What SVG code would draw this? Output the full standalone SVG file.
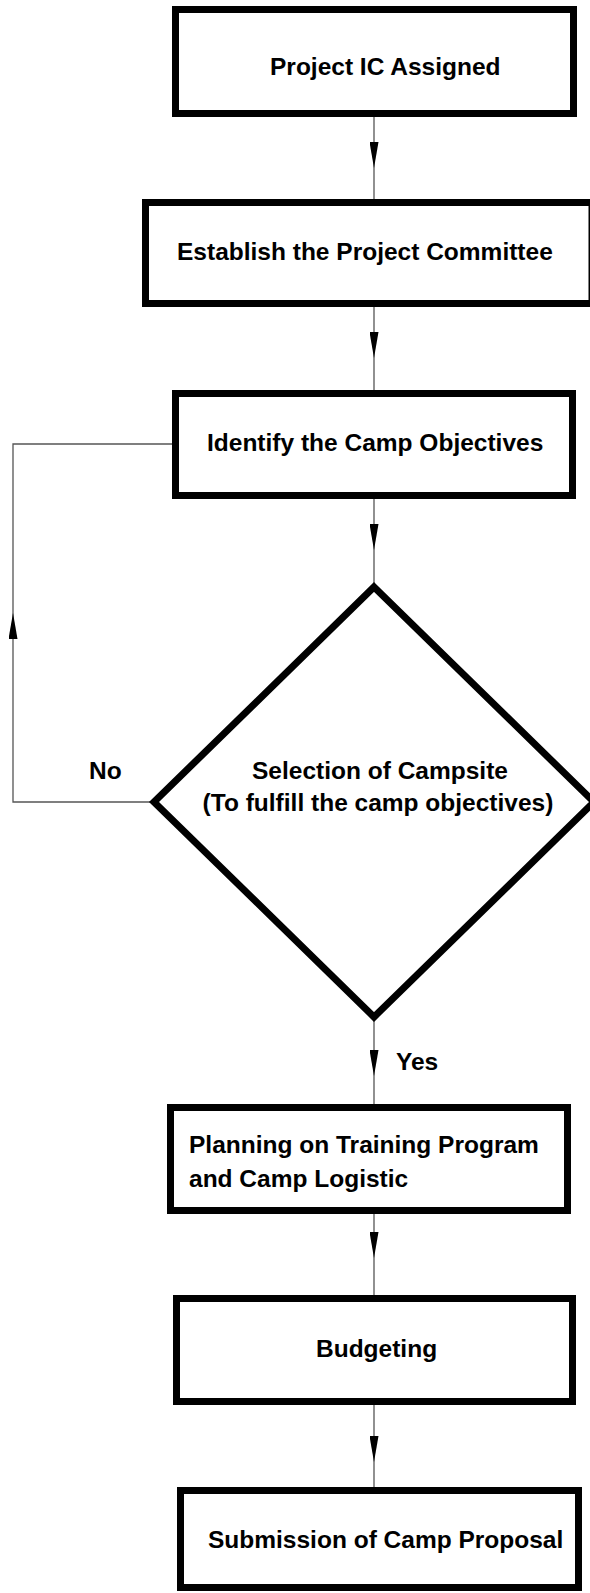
<svg xmlns="http://www.w3.org/2000/svg" width="590" height="1593" viewBox="0 0 590 1593">
<style>
.box{fill:#fff;stroke:#000;stroke-width:7;stroke-linejoin:miter}
.lbl{font-family:"Liberation Sans",Arial,sans-serif;font-weight:bold;font-size:24.5px;fill:#000}
.conn{fill:none;stroke:#555;stroke-width:1.3}
</style>
<defs>
<marker id="arr" markerUnits="userSpaceOnUse" viewBox="0 0 26 9" refX="26" refY="4.5" markerWidth="26" markerHeight="9" orient="auto">
<path d="M0,0 L26,4.5 L0,9 Z" fill="#000"/>
</marker>
</defs>
<rect width="590" height="1593" fill="#fff"/>
<g id="connectors">
<path class="conn" d="M374,117 L374,168" marker-end="url(#arr)"/>
<path class="conn" d="M374,168 L374,199"/>
<path class="conn" d="M374,307 L374,358" marker-end="url(#arr)"/>
<path class="conn" d="M374,358 L374,390"/>
<path class="conn" d="M374,499 L374,550" marker-end="url(#arr)"/>
<path class="conn" d="M374,550 L374,587"/>
<path class="conn" d="M374,1017 L374,1076" marker-end="url(#arr)"/>
<path class="conn" d="M374,1076 L374,1104"/>
<path class="conn" d="M374,1214 L374,1258" marker-end="url(#arr)"/>
<path class="conn" d="M374,1258 L374,1295"/>
<path class="conn" d="M374,1405 L374,1462" marker-end="url(#arr)"/>
<path class="conn" d="M374,1462 L374,1487"/>
<path class="conn" d="M154,802 L13,802 L13,613" marker-end="url(#arr)"/>
<path class="conn" d="M13,613 L13,444 L172,444"/>
<text class="lbl" x="89" y="779">No</text>
<text class="lbl" x="396" y="1070">Yes</text>
</g>
<g id="n1">
<rect class="box" x="175.5" y="9.5" width="398" height="104"/>
<text class="lbl" x="270" y="75">Project IC Assigned</text>
</g>
<g id="n2">
<rect class="box" x="145.5" y="202.5" width="446.5" height="101"/>
<text class="lbl" x="177" y="260">Establish the Project Committee</text>
</g>
<g id="n3">
<rect class="box" x="175.5" y="393.5" width="397" height="102"/>
<text class="lbl" x="207" y="451">Identify the Camp Objectives</text>
</g>
<g id="n4">
<path class="box" d="M374,587 L594,802 L374,1017 L154,802 Z"/>
<text class="lbl" x="380" y="779" text-anchor="middle">Selection of Campsite</text>
<text class="lbl" x="378" y="811" text-anchor="middle">(To fulfill the camp objectives)</text>
</g>
<g id="n5">
<rect class="box" x="170.5" y="1107.5" width="397" height="103"/>
<text class="lbl" x="189" y="1153">Planning on Training Program</text>
<text class="lbl" x="189" y="1187">and Camp Logistic</text>
</g>
<g id="n6">
<rect class="box" x="176.5" y="1298.5" width="396" height="103"/>
<text class="lbl" x="316" y="1357">Budgeting</text>
</g>
<g id="n7">
<rect class="box" x="180.5" y="1490.5" width="398" height="97"/>
<text class="lbl" x="208" y="1548">Submission of Camp Proposal</text>
</g>
</svg>
